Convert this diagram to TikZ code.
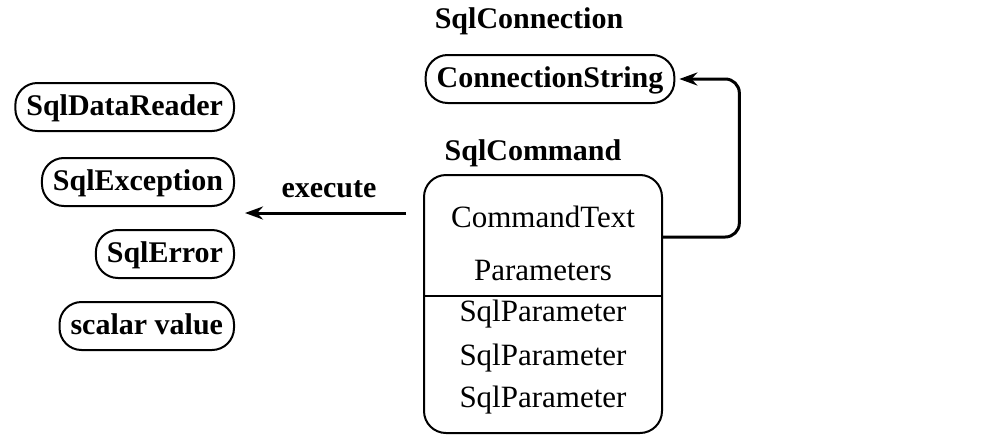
\documentclass[tikz,border=0pt]{standalone}
\usepackage{fontspec}
\setmainfont{Liberation Serif}
\usetikzlibrary{arrows.meta}

\begin{document}
\begin{tikzpicture}[x=1pt, y=-1pt,
    lbl/.style={font=\fontsize{30}{35}\selectfont\bfseries},
    txt/.style={font=\fontsize{31}{36}\selectfont},
    pill/.style={draw, line width=2pt, rounded corners=22pt, minimum height=48pt, inner xsep=11pt, text depth=3pt, anchor=east, lbl},
    link/.style={line width=3pt, -{Stealth[length=18pt, width=13pt]}}]
    %%%%% START %%%%%

    \useasboundingbox (0, 0) rectangle (984, 442);

    % results
    \node[pill] (reader) at (235, 107) {SqlDataReader};
    \node[pill] (exc) at (235, 182) {SqlException};
    \node[pill] (err) at (235, 254) {SqlError};
    \node[pill] (scalar) at (235, 326) {scalar value};

    % connection
    \node[lbl] (connlbl) at (529, 21) {SqlConnection};
    \node[pill, anchor=center] (conn) at (550, 79) {ConnectionString};

    % command
    \node[lbl] (cmdlbl) at (533, 153) {SqlCommand};
    \node[draw, line width=2pt, rounded corners=22pt, minimum width=238pt, minimum height=258pt] (cmd) at (543, 304) {};
    \draw[line width=1.6pt] (cmd.west |- 0, 296) -- (cmd.east |- 0, 296);

    \node[txt] (ctext) at (543, 217) {CommandText};
    \node[txt] (params) at (543, 270) {Parameters};
    \node[txt] (p1) at (543, 314) {SqlParameter};
    \node[txt] (p2) at (543, 358) {SqlParameter};
    \node[txt] (p3) at (543, 400) {SqlParameter};

    % arrows
    \draw[link, rounded corners=14pt] ([yshift=-63pt]cmd.north east) -| ([xshift=64pt]conn.east) -- ([xshift=4pt]conn.east);

    \coordinate (res) at (245, 213);
    \draw[link] ([xshift=-17pt]cmd.west |- res) -- (res);
    \node[lbl] (exec) at (329, 189) {execute};

    %%%%% END %%%%%
\end{tikzpicture}
\end{document}
